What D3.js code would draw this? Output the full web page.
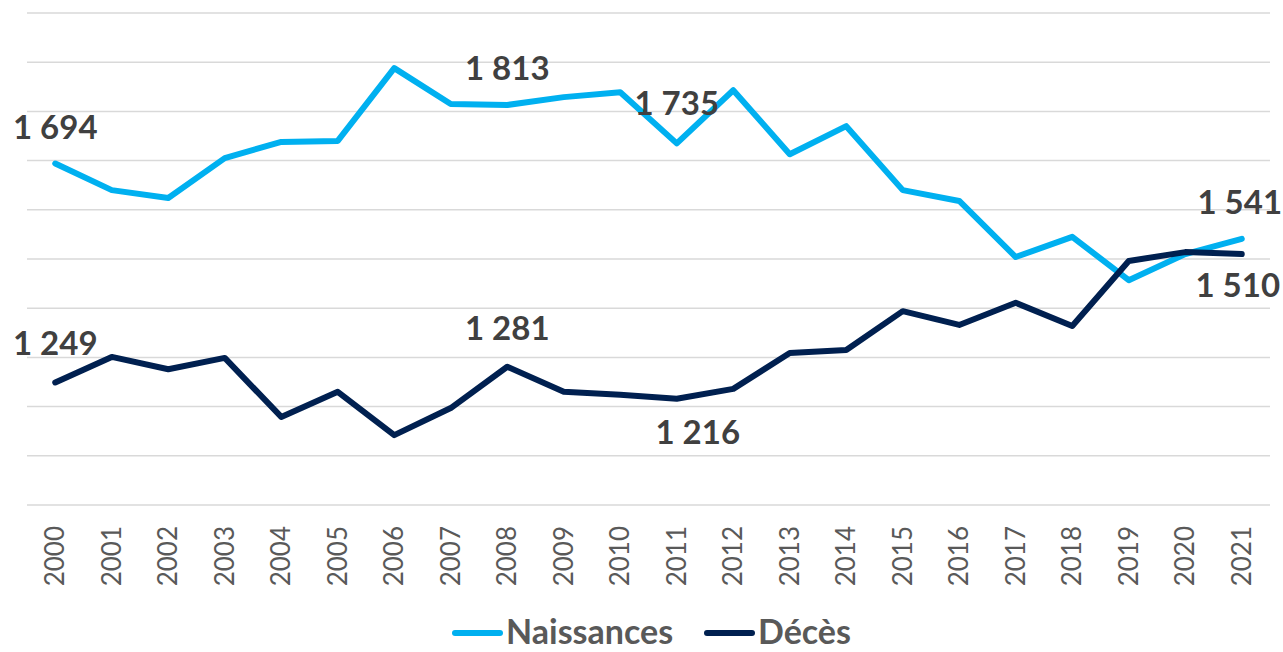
<!DOCTYPE html>
<html>
<head>
<meta charset="utf-8">
<style>
  body { margin: 0; background: #fff; }
  .tick-label { font-family: Lato, "Open Sans", sans-serif; font-size: 26px; fill: #595959; }
  .data-label { font-family: Lato, "Open Sans", sans-serif; font-size: 33px; font-weight: bold; fill: #404040; }
  .legend-text { font-family: Lato, "Open Sans", sans-serif; font-size: 34px; font-weight: bold; fill: #595959; }
</style>
</head>
<body>
<div id="chart"></div>
<script src="https://cdn.jsdelivr.net/npm/d3@7"></script>
<script>
const years = ['2000', '2001', '2002', '2003', '2004', '2005', '2006', '2007', '2008', '2009', '2010',
  '2011', '2012', '2013', '2014', '2015', '2016', '2017', '2018', '2019', '2020', '2021'];

const naissances = [1694, 1640, 1624, 1705, 1738, 1740, 1888, 1815, 1813, 1829, 1839,
  1735, 1843, 1713, 1770, 1640, 1618, 1504, 1545, 1457, 1510, 1541];

const deces = [1249, 1301, 1276, 1299, 1179, 1230, 1142, 1197, 1281, 1230, 1224,
  1216, 1236, 1309, 1315, 1394, 1366, 1411, 1364, 1496, 1514, 1510];

const yTicks = [1000, 1100, 1200, 1300, 1400, 1500, 1600, 1700, 1800, 1900, 2000];

// which points get a value label
const naissancesLabels = ['2000', '2008', '2011', '2021'];
const decesLabels = ['2000', '2008', '2011', '2021'];

const width = 1283;
const height = 652;
const margin = { top: 13, right: 13, bottom: 147, left: 27 };

const svg = d3.select('#chart')
  .append('svg')
  .attr('width', width)
  .attr('height', height);

const x = d3.scaleBand()
  .domain(years)
  .range([margin.left, width - margin.right]);

const y = d3.scaleLinear()
  .domain([1000, 2000])
  .range([height - margin.bottom, margin.top]);

// gridlines
svg.append('g')
  .selectAll('line')
  .data(yTicks)
  .enter()
  .append('line')
  .attr('x1', margin.left)
  .attr('x2', width - margin.right)
  .attr('y1', (d) => y(d))
  .attr('y2', (d) => y(d))
  .attr('stroke', '#d9d9d9')
  .attr('stroke-width', 1.5);

// x axis labels (rotated)
const xAxis = d3.axisBottom(x).tickSize(0).tickPadding(0);
const gx = svg.append('g')
  .attr('transform', `translate(0, ${height - margin.bottom})`)
  .call(xAxis);
gx.select('.domain').remove();
gx.selectAll('.tick text')
  .attr('class', 'tick-label')
  .attr('transform', 'rotate(-90)')
  .attr('text-anchor', 'end')
  .attr('x', -21)
  .attr('y', 0)
  .attr('dy', '0.35em')
  .attr('font-family', null)
  .attr('font-size', null)
  .attr('fill', null);

const cx = (d) => x(d) + x.bandwidth() / 2;

const line = d3.line()
  .x((d, i) => cx(years[i]))
  .y((d) => y(d));

svg.append('path')
  .datum(naissances)
  .attr('fill', 'none')
  .attr('stroke', '#00b0f0')
  .attr('stroke-width', 6)
  .attr('stroke-linejoin', 'round')
  .attr('stroke-linecap', 'round')
  .attr('d', line);

svg.append('path')
  .datum(deces)
  .attr('fill', 'none')
  .attr('stroke', '#002050')
  .attr('stroke-width', 6)
  .attr('stroke-linejoin', 'round')
  .attr('stroke-linecap', 'round')
  .attr('d', line);

const fmt = (v) => d3.format(',')(v).replace(',', ' ');

// data labels
function addLabels(values, labelYears, placement) {
  svg.append('g')
    .selectAll('text')
    .data(labelYears)
    .enter()
    .append('text')
    .attr('class', 'data-label')
    .attr('text-anchor', 'middle')
    .attr('x', (d) => cx(d) + (placement[d] ? placement[d][0] : 0))
    .attr('y', (d) => y(values[years.indexOf(d)]) + (placement[d] ? placement[d][1] : -25))
    .text((d) => fmt(values[years.indexOf(d)]));
}

addLabels(naissances, naissancesLabels, { '2011': [0, -28], '2021': [-2, -25] });
addLabels(deces, decesLabels, { '2000': [0, -27], '2008': [0, -27], '2011': [21, 45], '2021': [-4, 43] });

// legend
const legend = svg.append('g').attr('transform', `translate(0, ${height - 8})`);
const legendItems = [
  { name: 'Naissances', color: '#00b0f0', x: 455 },
  { name: 'Décès', color: '#002050', x: 707 }
];
legendItems.forEach((item) => {
  legend.append('line')
    .attr('x1', item.x)
    .attr('x2', item.x + 45)
    .attr('y1', -11)
    .attr('y2', -11)
    .attr('stroke', item.color)
    .attr('stroke-width', 6)
    .attr('stroke-linecap', 'round');
  legend.append('text')
    .attr('class', 'legend-text')
    .attr('x', item.x + 51)
    .attr('y', 0)
    .text(item.name);
});
</script>
</body>
</html>
